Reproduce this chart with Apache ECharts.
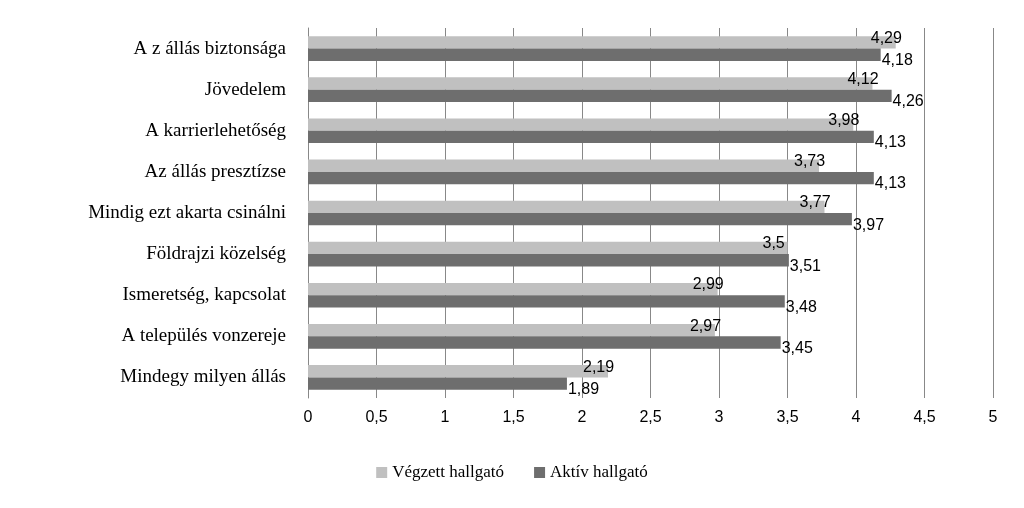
<!DOCTYPE html>
<html><head><meta charset="utf-8">
<script src="https://cdn.jsdelivr.net/npm/echarts@6/dist/echarts.min.js"></script>
<style>html,body{margin:0;background:#fff}#c{width:1024px;height:508px}</style>
</head><body><div id="c"></div>
<script>
const categories = ["A z állás biztonsága","Jövedelem","A karrierlehetőség","Az állás presztízse","Mindig ezt akarta csinálni","Földrajzi közelség","Ismeretség, kapcsolat","A település vonzereje","Mindegy milyen állás"];
const vegzett = [4.29,4.12,3.98,3.73,3.77,3.5,2.99,2.97,2.19];
const aktiv = [4.18,4.26,4.13,4.13,3.97,3.51,3.48,3.45,1.89];
const fmt = p => String(p.value).replace('.', ',');
const chart = echarts.init(document.getElementById('c'));
chart.setOption({
  animation:false,
  grid:{left:308,right:31,top:28,bottom:110},
  legend:{bottom:22,left:'center',itemWidth:11,itemHeight:11,itemGap:30,icon:'rect',
    textStyle:{fontFamily:'Liberation Serif',fontSize:17,color:'#000'}},
  xAxis:{type:'value',min:0,max:5,interval:0.5,
    axisLabel:{formatter:v=>String(v).replace('.',','),fontFamily:'Liberation Sans',fontSize:16,color:'#000',margin:12},
    splitLine:{lineStyle:{color:'#888'}},axisLine:{show:false},axisTick:{show:false}},
  yAxis:{type:'category',data:categories,inverse:true,
    axisLine:{lineStyle:{color:'#888'}},axisTick:{show:false},
    axisLabel:{fontFamily:'Liberation Serif',fontSize:19,color:'#000',margin:22}},
  series:[
    {name:'Végzett hallgató',type:'bar',data:vegzett,barGap:'0%',barCategoryGap:'40%',
     itemStyle:{color:'#c0c0c0'},
     label:{show:true,position:'right',formatter:fmt,offset:[-30,-4],fontFamily:'Liberation Sans',fontSize:16,color:'#000'}},
    {name:'Aktív hallgató',type:'bar',data:aktiv,
     itemStyle:{color:'#6e6e6e'},
     label:{show:true,position:'right',formatter:fmt,offset:[-4,6],fontFamily:'Liberation Sans',fontSize:16,color:'#000'}}
  ]
});
</script></body></html>
